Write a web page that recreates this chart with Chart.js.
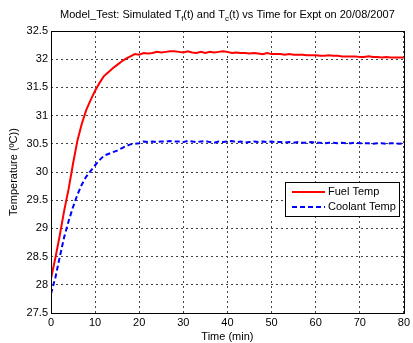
<!DOCTYPE html>
<html>
<head>
<meta charset="utf-8">
<script src="https://cdn.jsdelivr.net/npm/chart.js@4.4.1/dist/chart.umd.min.js"></script>
<style>
  html, body { margin: 0; padding: 0; background: #fff; }
</style>
</head>
<body>
<canvas id="c" width="413" height="343"></canvas>
<script>
// time axis (minutes)
const minutes = [];
for (let m = 0; m <= 80; m++) minutes.push(m);

// fuel temperature
const fuelTemp = [
  28.11, 28.48, 28.88, 29.32, 29.70, 30.15, 30.56, 30.86, 31.10, 31.28,
  31.44, 31.58, 31.70, 31.77, 31.84, 31.90, 31.96, 32.01, 32.05, 32.09,
  32.08, 32.11, 32.10, 32.11, 32.13, 32.12, 32.13, 32.14, 32.14, 32.13,
  32.12, 32.14, 32.12, 32.11, 32.13, 32.11, 32.13, 32.12, 32.13, 32.14,
  32.13, 32.11, 32.12, 32.11, 32.11, 32.10, 32.11, 32.10, 32.09, 32.11,
  32.09, 32.09, 32.09, 32.08, 32.09, 32.08, 32.08, 32.08, 32.07, 32.07,
  32.07, 32.06, 32.06, 32.07, 32.06, 32.06, 32.05, 32.05, 32.05, 32.05,
  32.04, 32.04, 32.05, 32.04, 32.04, 32.03, 32.04, 32.03, 32.03, 32.03,
  32.03
];

// coolant temperature
const coolantTemp = [
  27.84, 28.13, 28.50, 28.85, 29.13, 29.38, 29.60, 29.78, 29.92, 30.02,
  30.12, 30.21, 30.29, 30.32, 30.35, 30.38, 30.42, 30.46, 30.49, 30.50,
  30.51, 30.54, 30.53, 30.54, 30.53, 30.54, 30.54, 30.55, 30.54, 30.54,
  30.53, 30.55, 30.54, 30.53, 30.54, 30.55, 30.53, 30.52, 30.54, 30.53,
  30.54, 30.55, 30.53, 30.54, 30.52, 30.53, 30.54, 30.53, 30.54, 30.53,
  30.54, 30.53, 30.53, 30.52, 30.53, 30.52, 30.53, 30.52, 30.52, 30.53,
  30.52, 30.52, 30.51, 30.52, 30.52, 30.51, 30.52, 30.51, 30.51, 30.52,
  30.51, 30.51, 30.51, 30.50, 30.51, 30.51, 30.50, 30.51, 30.51, 30.50,
  30.51
];

const xTicks = [0, 10, 20, 30, 40, 50, 60, 70, 80];
const yTicks = [27.5, 28, 28.5, 29, 29.5, 30, 30.5, 31, 31.5, 32, 32.5];

const FONT = '"Liberation Sans", Arial, sans-serif';

// title with subscripts, centred over the plot area
const titlePlugin = {
  id: 'subTitle',
  afterDraw(chart) {
    const ctx = chart.ctx;
    const parts = [
      ['Model_Test: Simulated T', false], ['f', true],
      ['(t) and T', false], ['c', true],
      ['(t) vs Time for Expt on 20/08/2007', false]
    ];
    const big = '11px ' + FONT, small = '8px ' + FONT;
    ctx.save();
    let w = 0;
    parts.forEach(p => { ctx.font = p[1] ? small : big; w += ctx.measureText(p[0]).width; });
    const a = chart.chartArea;
    let x = (a.left + a.right) / 2 - w / 2;
    ctx.fillStyle = '#000';
    ctx.textBaseline = 'alphabetic';
    parts.forEach(p => {
      ctx.font = p[1] ? small : big;
      ctx.fillText(p[0], x, p[1] ? 21 : 18);
      x += ctx.measureText(p[0]).width;
    });
    ctx.restore();
  }
};

// box around plot + legend inside
const boxPlugin = {
  id: 'boxLegend',
  afterDraw(chart) {
    const ctx = chart.ctx;
    const a = chart.chartArea;
    ctx.save();
    ctx.strokeStyle = '#000';
    ctx.lineWidth = 1;
    ctx.strokeRect(Math.round(a.left) + 0.5, Math.round(a.top) + 0.5,
      Math.round(a.right - a.left), Math.round(a.bottom - a.top));

    const lx = Math.round(a.right) - 119, ly = Math.round(a.top) + 151;
    ctx.fillStyle = '#fff';
    ctx.fillRect(lx, ly, 114, 34);
    ctx.strokeRect(lx + 0.5, ly + 0.5, 114, 34);
    ctx.font = '11px ' + FONT;
    ctx.textBaseline = 'middle';
    chart.data.datasets.forEach((ds, i) => {
      const yy = ly + 10 + i * 15;
      ctx.strokeStyle = ds.borderColor;
      ctx.lineWidth = ds.borderWidth;
      ctx.setLineDash(ds.borderDash || []);
      ctx.beginPath();
      ctx.moveTo(lx + 7, yy);
      ctx.lineTo(lx + 40, yy);
      ctx.stroke();
      ctx.setLineDash([]);
      ctx.fillStyle = '#000';
      ctx.fillText(ds.label, lx + 43, yy);
    });
    ctx.restore();
  }
};

new Chart(document.getElementById('c'), {
  type: 'line',
  data: {
    datasets: [
      {
        label: 'Fuel Temp',
        data: minutes.map((m, i) => ({ x: m, y: fuelTemp[i] })),
        borderColor: '#ff0000',
        borderWidth: 2,
        pointRadius: 0,
        tension: 0
      },
      {
        label: 'Coolant Temp',
        data: minutes.map((m, i) => ({ x: m, y: coolantTemp[i] })),
        borderColor: '#0000ff',
        borderWidth: 2,
        borderDash: [5, 3],
        pointRadius: 0,
        tension: 0
      }
    ]
  },
  options: {
    responsive: false,
    animation: false,
    maintainAspectRatio: false,
    layout: { padding: { top: 31, right: 4, left: 0, bottom: 0 } },
    plugins: {
      legend: { display: false },
      title: { display: false },
      tooltip: { enabled: false }
    },
    scales: {
      x: {
        type: 'linear',
        min: 0,
        max: 80,
        afterBuildTicks: s => { s.ticks = xTicks.map(v => ({ value: v })); },
        afterFit: s => { s.height = 30; },
        grid: { color: '#444', drawTicks: false },
        border: { display: false, dash: [2, 3] },
        ticks: { color: '#000', font: { size: 11, family: FONT }, padding: 3, maxRotation: 0 },
        title: { display: true, text: 'Time (min)', color: '#000', font: { size: 11, family: FONT }, padding: { top: 0, bottom: -1 } }
      },
      y: {
        min: 27.5,
        max: 32.5,
        afterBuildTicks: s => { s.ticks = yTicks.map(v => ({ value: v })); },
        afterFit: s => { s.width = 51; },
        grid: { color: '#444', drawTicks: false },
        border: { display: false, dash: [2, 3] },
        ticks: { color: '#000', font: { size: 11, family: FONT }, padding: 3, callback: v => String(v) },
        title: { display: true, text: 'Temperature (ºC))', color: '#000', font: { size: 11, family: FONT }, padding: { top: 7, bottom: 0 } }
      }
    }
  },
  plugins: [titlePlugin, boxPlugin]
});
</script>
</body>
</html>
